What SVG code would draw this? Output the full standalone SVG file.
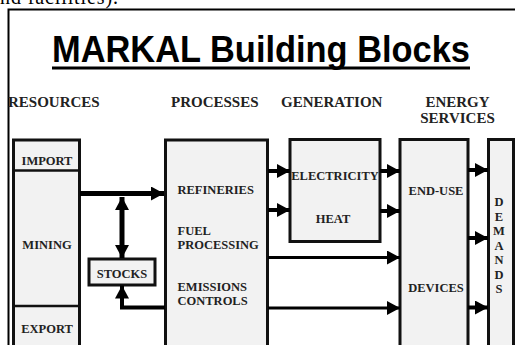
<svg xmlns="http://www.w3.org/2000/svg" width="515" height="345" viewBox="0 0 515 345">
<defs>
<style>
.box{fill:#f2f2f2;stroke:#111;stroke-width:3}
.lbl{font-family:"Liberation Serif","Times New Roman",serif;font-weight:bold;font-size:12.5px;fill:#222;text-anchor:middle}
.lbs{font-family:"Liberation Serif","Times New Roman",serif;font-weight:bold;font-size:12.5px;fill:#222;text-anchor:start}
.hdr{font-family:"Liberation Serif","Times New Roman",serif;font-weight:bold;font-size:15px;fill:#222}
.ln{stroke:#000;fill:none}
</style>
<marker id="ah" markerUnits="userSpaceOnUse" markerWidth="13" markerHeight="14" refX="13" refY="7" orient="auto-start-reverse" viewBox="0 0 13 14">
<path d="M0,0 L13,7 L0,14 z" fill="#000"/>
</marker>
</defs>
<rect width="515" height="345" fill="#fff"/>
<text x="0" y="4" font-family="Liberation Serif, serif" font-size="20" fill="#000" textLength="118">nd facilities).</text>
<path d="M8.5,345 V9.5 H515" class="ln" stroke-width="2"/>
<g id="title">
<text x="261" y="62" font-family="Liberation Sans, Arial, sans-serif" font-weight="bold" font-size="36" textLength="418" lengthAdjust="spacingAndGlyphs" text-anchor="middle" fill="#000">MARKAL Building Blocks</text>
<line x1="52" y1="68" x2="470" y2="68" stroke="#000" stroke-width="3"/>
</g>
<g id="headers">
<text class="hdr" x="8" y="107">RESOURCES</text>
<text class="hdr" x="171" y="107">PROCESSES</text>
<text class="hdr" x="281" y="107">GENERATION</text>
<text class="hdr" x="457.5" y="107" text-anchor="middle">ENERGY</text>
<text class="hdr" x="457.5" y="123" text-anchor="middle">SERVICES</text>
</g>
<g id="resources">
<rect class="box" x="13.5" y="140" width="66" height="215"/>
<line x1="13.5" y1="170.5" x2="79.5" y2="170.5" stroke="#111" stroke-width="2.5"/>
<line x1="13.5" y1="306" x2="79.5" y2="306" stroke="#111" stroke-width="2.5"/>
<text class="lbl" x="47" y="165">IMPORT</text>
<text class="lbl" x="47" y="249">MINING</text>
<text class="lbl" x="47" y="333">EXPORT</text>
</g>
<g id="processes">
<rect class="box" x="165.5" y="140" width="102" height="215"/>
<text class="lbs" x="177.5" y="194">REFINERIES</text>
<text class="lbs" x="177.5" y="235">FUEL</text>
<text class="lbs" x="177.5" y="249">PROCESSING</text>
<text class="lbs" x="177.5" y="291">EMISSIONS</text>
<text class="lbs" x="177.5" y="305">CONTROLS</text>
</g>
<g id="generation">
<rect class="box" x="290" y="139.5" width="90" height="102"/>
<text class="lbl" x="335" y="180">ELECTRICITY</text>
<text class="lbl" x="333" y="223">HEAT</text>
</g>
<g id="enduse">
<rect class="box" x="400" y="139.5" width="68" height="215"/>
<text class="lbl" x="436" y="195">END-USE</text>
<text class="lbl" x="436" y="292">DEVICES</text>
</g>
<g id="demands">
<rect class="box" x="488.5" y="139.5" width="25" height="215"/>
<text class="lbl" x="499" y="206">D</text>
<text class="lbl" x="499" y="220.5">E</text>
<text class="lbl" x="499" y="235">M</text>
<text class="lbl" x="499" y="249.5">A</text>
<text class="lbl" x="499" y="264">N</text>
<text class="lbl" x="499" y="278.5">D</text>
<text class="lbl" x="499" y="293">S</text>
</g>
<g id="stocks">
<rect class="box" x="89" y="259" width="66" height="26"/>
<text class="lbl" x="122" y="278">STOCKS</text>
</g>
<g id="connectors">
<line class="ln" x1="80" y1="193.5" x2="164" y2="193.5" stroke-width="5" marker-end="url(#ah)"/>
<line class="ln" x1="122" y1="197" x2="122" y2="258" stroke-width="5" marker-start="url(#ah)" marker-end="url(#ah)"/>
<path class="ln" d="M165,307.5 H122 V285.5" stroke-width="4" marker-end="url(#ah)"/>
<line class="ln" x1="268" y1="171" x2="290" y2="171" stroke-width="4" marker-end="url(#ah)"/>
<line class="ln" x1="268" y1="210" x2="290" y2="210" stroke-width="4" marker-end="url(#ah)"/>
<line class="ln" x1="380" y1="171" x2="400" y2="171" stroke-width="4" marker-end="url(#ah)"/>
<line class="ln" x1="380" y1="211" x2="400" y2="211" stroke-width="4" marker-end="url(#ah)"/>
<line class="ln" x1="268" y1="257.5" x2="400" y2="257.5" stroke-width="3" marker-end="url(#ah)"/>
<line class="ln" x1="268" y1="308" x2="400" y2="308" stroke-width="3" marker-end="url(#ah)"/>
<line class="ln" x1="468" y1="170" x2="488" y2="170" stroke-width="4" marker-end="url(#ah)"/>
<line class="ln" x1="468" y1="238" x2="488" y2="238" stroke-width="4" marker-end="url(#ah)"/>
<line class="ln" x1="468" y1="307.5" x2="488" y2="307.5" stroke-width="4" marker-end="url(#ah)"/>
</g>
</svg>
